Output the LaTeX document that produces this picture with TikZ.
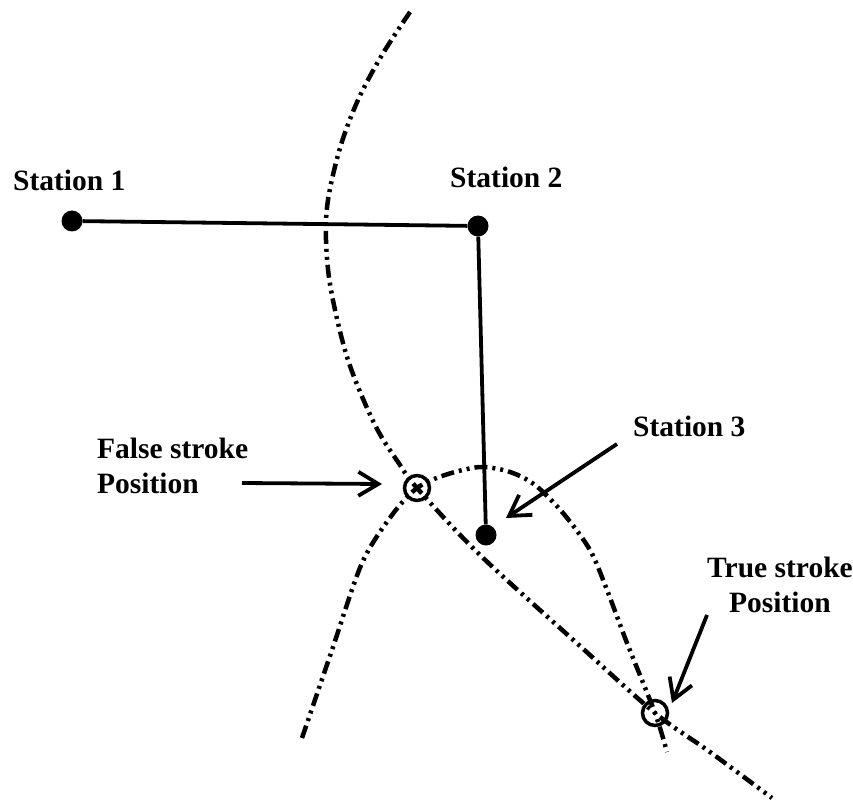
\documentclass[tikz,border=0pt]{standalone}
\usepackage{fontspec}
\setmainfont{Liberation Serif}
\usetikzlibrary{arrows.meta}
\begin{document}
\begin{tikzpicture}[x=1pt,y=-1pt,
  lbl/.style={font=\fontsize{29.5}{35}\selectfont\bfseries, inner sep=0pt},
  station/.style={circle, fill=black, minimum size=21pt, inner sep=0pt},
  strike/.style={circle, draw=black, line width=3.5pt, minimum size=25pt, inner sep=0pt},
  link/.style={line width=3.8pt},
  hyper/.style={line width=4.5pt, dash pattern=on 13pt off 5pt on 3pt off 5pt on 3pt off 5pt},
  pointer/.style={line width=3.8pt, -{Straight Barb[length=20pt,width=24pt,line width=3.8pt]}}
]
\useasboundingbox (0,0) rectangle (853,802);
\fill[white] (0,0) rectangle (853,802);

% hyperbolic curves
\draw[hyper] plot[smooth, tension=0.55] coordinates {(410,12) (382,55) (358,100) (340,148) (328,200) (326,240) (331,290) (348,360) (375,425) (400,465) (417,488) (480,555) (580,646) (655,713) (710,752) (772,798)};
\draw[hyper] plot[smooth, tension=0.5] coordinates {(302,738) (332,650) (362,563) (392,515) (417,488) (445,475) (480,467) (510,472) (535,485) (563,513) (590,550) (607,590) (627,643) (655,713) (667,752)};

% stations
\node[station] (s1) at (72,221) {};
\node[station] (s2) at (478,226) {};
\node[station] (s3) at (486,535) {};
\draw[link] (s1) -- (s2);
\draw[link] (s2) -- (s3);

% stroke positions
\node[strike] (fs) at (417,488) {};
\node[strike] (ts) at (655,713) {};

% labels
\node[lbl, anchor=base west] (l1) at (13,191) {Station 1};
\node[lbl, anchor=base west] (l2) at (450,188) {Station 2};
\node[lbl, anchor=base west] (l3) at (633,436) {Station 3};
\node[lbl, anchor=north west, align=left] (lf) at (97,437.5) {False stroke\\Position};
\node[lbl, anchor=north, align=center] (lt) at (780,556.5) {True stroke\\Position};

% pointers
\coordinate (fa0) at (242,483);
\coordinate (fa1) at (382,484);
\coordinate (sa0) at (617,444);
\coordinate (sa1) at (506,518);
\coordinate (ta0) at (707,615);
\coordinate (ta1) at (672,703);
\draw[pointer] (fa0) -- (fa1);
\draw[pointer] (sa0) -- (sa1);
\draw[pointer] (ta0) -- (ta1);
\end{tikzpicture}
\end{document}
